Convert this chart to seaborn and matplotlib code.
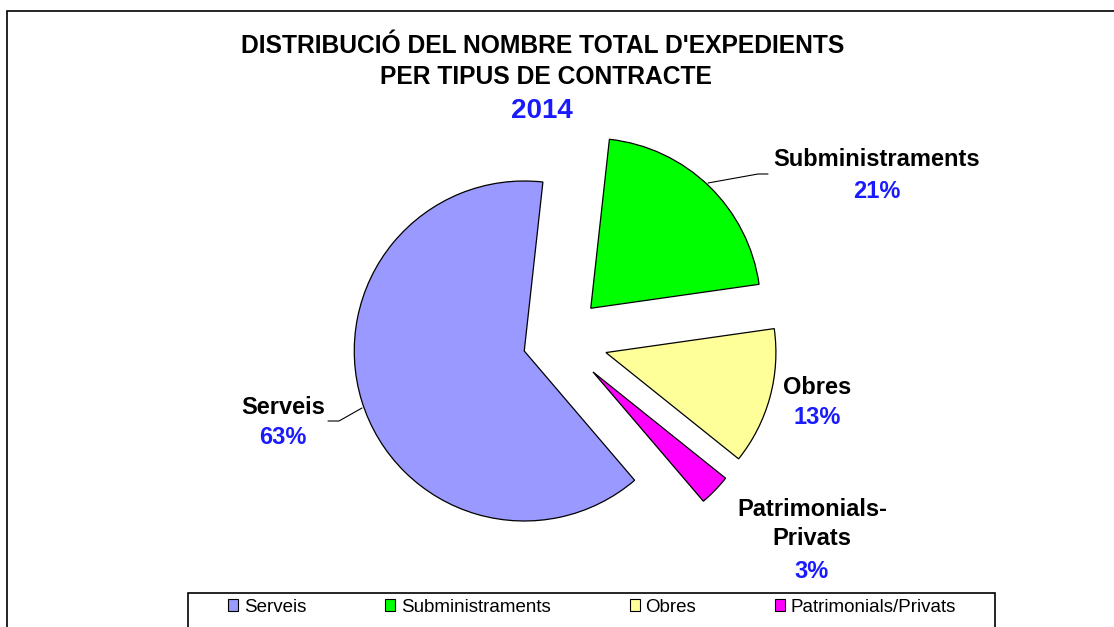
import matplotlib
matplotlib.use("Agg")
import matplotlib.pyplot as plt
import matplotlib.patches as mpatches
import seaborn as sns

# data (legend order, drawn clockwise)
categories = ["Serveis", "Subministraments", "Obres", "Patrimonials/Privats"]
slice_labels = ["Serveis", "Subministraments", "Obres", "Patrimonials-\nPrivats"]
values = [63, 21, 13, 3]
colors = ["#9999FF", "#00FF00", "#FFFF99", "#FF00FF"]
title_lines = ["DISTRIBUCIÓ DEL NOMBRE TOTAL D'EXPEDIENTS", "PER TIPUS DE CONTRACTE"]
year = "2014"

sns.set_theme(style="white")
plt.rcParams["font.family"] = ["Liberation Sans", "DejaVu Sans"]
plt.rcParams["text.color"] = "black"

W, H = 1114, 627
R = 170
fig = plt.figure(figsize=(W / 100, H / 100), dpi=100)
ax = fig.add_axes([0, 0, 1, 1])

def Y(py):
    # pixel row (from top) -> data y
    return H - py

palette = sns.color_palette(colors)
# explode is in data units here (pixels), about a quarter of the radius
wedges, _ = ax.pie(values, colors=palette, startangle=-49.5, counterclock=False,
                   center=(560, Y(340)), radius=R,
                   explode=[0.22 * R, 0.26 * R, 0.28 * R, 0.27 * R],
                   wedgeprops=dict(edgecolor="black", linewidth=0.9))
ax.set_xlim(0, W)
ax.set_ylim(0, H)
ax.set_aspect("equal")
ax.axis("off")

# outer frame
ax.add_patch(mpatches.Rectangle((7, -50), W + 100, Y(11) + 50, fill=False,
                                edgecolor="black", linewidth=1.2, clip_on=False))

# title
ax.text(543, Y(46), title_lines[0], ha="center", va="center", fontsize=17.7, fontweight="bold")
ax.text(546, Y(77), title_lines[1], ha="center", va="center", fontsize=17.7, fontweight="bold")
ax.text(542, Y(111), year, ha="center", va="center", fontsize=20, fontweight="bold", color="#1a1aff")

# slice labels
blue = "#1a1aff"
label_pos = [(283, 408, 438), (877, 160, 192), (817, 387, 418), (812, 524, 572)]
for lab, v, (x, yl, yp) in zip(slice_labels, values, label_pos):
    ax.text(x, Y(yl), lab, ha="center", va="center", fontsize=17, fontweight="bold",
            linespacing=1.3)
    ax.text(x, Y(yp), f"{v}%", ha="center", va="center", fontsize=17, fontweight="bold",
            color=blue)

# leader lines
ax.plot([708, 758, 768], [Y(183), Y(174), Y(174)], color="black", lw=0.8)
ax.plot([328, 339, 362], [Y(421), Y(421), Y(408)], color="black", lw=0.8)

# legend box + legend
ax.add_patch(mpatches.Rectangle((188, -50), 807, Y(593) + 50, fill=False,
                                edgecolor="black", linewidth=1.2, clip_on=False))
handles = [mpatches.Patch(facecolor=c, edgecolor="black", linewidth=0.8) for c in colors]
fig.legend(handles, categories, ncol=4, frameon=False, loc="center left",
           bbox_to_anchor=(228 / W, 1 - 607 / H), fontsize=13.5,
           handlelength=0.55, handleheight=0.55, handletextpad=0.3,
           columnspacing=4.2, borderpad=0, borderaxespad=0)

fig.savefig("out.png", dpi=100)
